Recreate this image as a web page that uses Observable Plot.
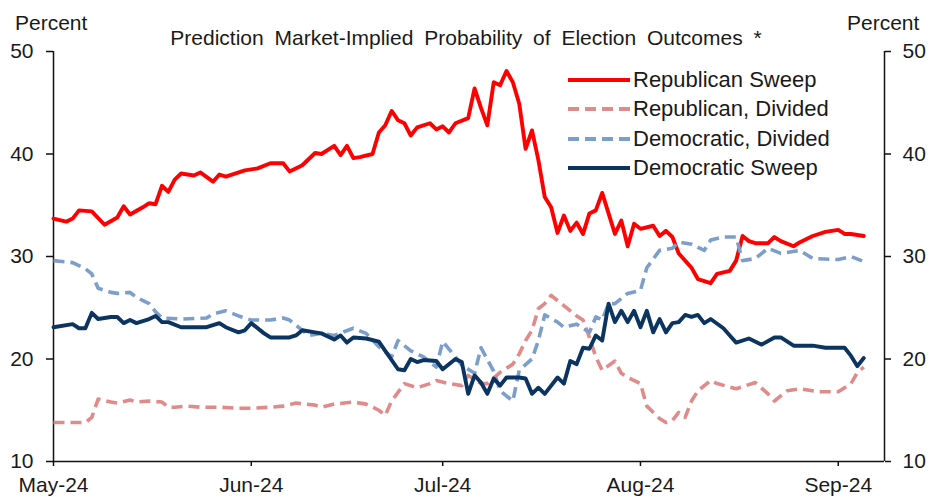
<!DOCTYPE html>
<html>
<head>
<meta charset="utf-8">
<script src="https://cdn.jsdelivr.net/npm/d3@7"></script>
<script src="https://cdn.jsdelivr.net/npm/@observablehq/plot@0.6"></script>
<style>
  body { margin: 0; background: #fff; }
  #wrap { position: relative; width: 929px; height: 497px; overflow: hidden;
          font-family: "Liberation Sans", Arial, sans-serif; color: #1a1a1a; }
  #chart { position: absolute; left: 0; top: 0; }
  .lbl { position: absolute; font-size: 21px; line-height: 1; white-space: pre; }
  .leg { position: absolute; left: 568px; height: 30px; }
  .leg svg { position: absolute; left: 0; top: 0; }
  .leg span { position: absolute; left: 65px; font-size: 22px; line-height: 1; white-space: pre; }
</style>
</head>
<body>
<div id="wrap">
  <div id="chart"></div>
  <div class="lbl" id="title" style="top:27px;left:0;width:932px;text-align:center;word-spacing:5px;"></div>
  <div class="lbl" id="pl" style="top:12px;left:15px;"></div>
  <div class="lbl" id="pr" style="top:12px;left:847px;"></div>
  <div id="legend"></div>
</div>
<script>
// ---------- chart text ----------
const titleText = "Prediction Market-Implied Probability of Election Outcomes *";
const unitLabel = "Percent";
const yTicks = [10, 20, 30, 40, 50];
const monthTicks = ["2024-05-01", "2024-06-01", "2024-07-01", "2024-08-01", "2024-09-01"];
const xDomain = ["2024-05-01", "2024-09-08T06:00"];

// ---------- series names / styles ----------
const seriesNames = ["Republican Sweep", "Republican, Divided", "Democratic, Divided", "Democratic Sweep"];
const seriesColors = ["#ff0000", "#e08a8a", "#7c9ecb", "#0b3560"];
const seriesDash = [null, "11,6", "11,6", null];

// ---------- Republican Sweep ----------
const repSweepDates = ["05-01","05-03","05-04","05-05","05-07","05-09","05-11","05-12","05-13","05-15","05-16","05-17","05-18","05-19","05-20","05-21","05-22","05-23","05-24","05-26","05-27","05-28","05-31",
"06-02","06-04","06-06","06-07","06-09","06-11","06-12","06-14","06-15","06-16","06-17","06-18","06-20","06-21","06-22","06-23","06-24","06-25","06-26","06-27","06-29","06-30",
"07-01","07-02","07-03","07-05","07-06","07-07","07-08","07-09","07-10","07-11","07-12","07-13","07-14","07-15","07-16","07-17","07-18","07-19","07-20","07-21","07-22","07-23","07-24","07-25","07-26","07-28","07-29","07-30","07-31",
"08-01","08-03","08-04","08-05","08-06","08-07","08-09","08-10","08-12","08-13","08-15","08-16","08-17","08-18","08-19","08-21","08-22","08-23","08-25","08-26","08-28","08-30",
"09-01","09-02","09-03","09-05"];
const repSweepValues = [33.7,33.4,33.7,34.5,34.4,33.1,33.8,34.9,34.1,34.8,35.2,35.1,36.9,36.3,37.5,38.1,38.0,37.9,38.2,37.3,38.0,37.8,38.4,
38.6,39.1,39.1,38.3,38.9,40.1,40.0,40.8,39.9,40.8,39.6,39.7,40.0,42.1,42.8,44.2,43.3,43.0,41.8,42.6,43.0,42.4,
42.7,42.1,43.0,43.5,46.4,44.5,42.8,47.0,46.7,48.1,47.0,44.9,40.5,42.3,39.4,35.8,34.8,32.3,34.0,32.5,33.3,32.2,34.2,34.5,36.2,32.2,33.5,31.0,33.2,
32.7,33.0,32.0,32.5,31.9,30.3,28.9,27.8,27.4,28.3,28.6,29.6,32.0,31.5,31.3,31.3,31.9,31.5,31.0,31.4,32.0,32.4,
32.6,32.2,32.2,32.0];

// ---------- Republican, Divided ----------
const repDivDates = ["05-01","05-06","05-07","05-08","05-10","05-11","05-13","05-14","05-16","05-18","05-19","05-20","05-22","05-24","05-27","05-30",
"06-01","06-04","06-06","06-08","06-11","06-12","06-14","06-17","06-19","06-21","06-22","06-23","06-25","06-27","06-29","06-30",
"07-02","07-04","07-05","07-07","07-08","07-10","07-12","07-13","07-14","07-15","07-16","07-17","07-18","07-20","07-22","07-23","07-24","07-25","07-26","07-28","07-29","07-30",
"08-01","08-02","08-04","08-05","08-06","08-07","08-08","08-09","08-10","08-12","08-13","08-16","08-19","08-21","08-22","08-24","08-26","08-29",
"09-01","09-03","09-04","09-05"];
const repDivValues = [13.8,13.8,14.3,16.1,15.8,15.7,16.0,15.8,15.9,15.8,15.3,15.3,15.4,15.3,15.3,15.2,
15.2,15.3,15.4,15.7,15.5,15.3,15.6,15.8,15.6,15.0,14.5,15.9,17.6,17.2,17.6,17.9,
17.6,17.4,18.4,17.6,17.6,18.7,19.5,20.5,21.8,22.8,24.9,25.4,26.2,25.2,24.2,23.8,22.1,20.2,18.9,19.8,18.6,18.2,
17.6,15.4,14.2,13.8,14.0,14.8,14.3,15.9,16.9,17.9,17.6,17.1,17.7,16.6,15.9,16.9,17.1,16.8,
16.8,17.6,18.7,19.2];

// ---------- Democratic, Divided ----------
const demDivDates = ["05-01","05-04","05-06","05-07","05-08","05-10","05-11","05-13","05-14","05-16","05-17","05-18","05-21","05-25","05-26","05-28","05-30",
"06-01","06-04","06-06","06-07","06-09","06-10","06-12","06-14","06-17","06-19","06-21","06-23","06-24","06-26","06-28","06-30",
"07-01","07-03","07-04","07-06","07-07","07-09","07-10","07-12","07-13","07-15","07-16","07-17","07-19","07-20","07-22","07-24","07-25","07-26","07-27","07-28","07-30",
"08-01","08-02","08-04","08-06","08-07","08-09","08-11","08-12","08-14","08-16","08-17","08-19","08-21","08-23","08-26","08-28",
"09-01","09-03","09-05"];
const demDivValues = [29.6,29.4,28.8,28.3,26.9,26.5,26.4,26.5,26.0,25.4,24.6,24.0,23.9,24.0,24.4,24.7,24.2,
23.8,23.8,24.0,23.8,22.8,22.3,22.5,22.3,23.0,22.5,21.2,20.2,21.8,20.8,20.2,19.2,
21.7,20.2,19.4,18.6,21.1,18.8,16.9,15.9,18.9,20.0,21.8,24.3,23.6,23.1,23.4,22.6,24.1,23.8,25.4,25.4,26.4,
26.7,28.9,30.6,30.8,31.4,31.2,30.6,31.6,31.9,31.9,29.6,29.8,30.8,30.3,30.6,29.8,
29.7,30.0,29.5];

// ---------- Democratic Sweep ----------
const demSweepDates = ["05-01","05-04","05-05","05-06","05-07","05-08","05-10","05-11","05-12","05-13","05-14","05-16","05-17","05-18","05-19","05-21","05-25","05-27","05-28","05-30","05-31",
"06-01","06-03","06-04","06-07","06-08","06-09","06-11","06-12","06-14","06-15","06-16","06-17","06-19","06-21","06-22","06-24","06-25","06-26","06-27","06-28","06-30",
"07-01","07-03","07-04","07-05","07-06","07-07","07-08","07-09","07-10","07-11","07-13","07-14","07-15","07-16","07-17","07-19","07-20","07-21","07-22","07-23","07-24","07-25","07-26","07-27","07-28","07-29","07-30","07-31",
"08-01","08-02","08-03","08-04","08-05","08-06","08-07","08-08","08-09","08-10","08-11","08-12","08-14","08-15","08-16","08-18","08-20","08-22","08-23","08-25","08-28","08-30",
"09-02","09-03","09-04","09-05"];
const demSweepValues = [23.1,23.4,23.0,23.0,24.5,23.9,24.1,24.1,23.5,23.8,23.5,23.9,24.2,23.6,23.6,23.1,23.1,23.5,23.1,22.6,22.8,
23.5,22.5,22.1,22.1,22.3,22.8,22.6,22.5,21.9,22.3,21.6,22.1,22.0,21.7,20.8,19.0,18.9,20.0,19.7,19.9,19.8,
19.0,20.0,19.7,16.6,18.4,17.7,16.6,18.1,17.4,18.2,18.2,18.1,16.6,17.2,16.6,18.2,17.6,19.8,19.5,21.1,21.0,22.3,21.8,25.4,23.6,24.7,23.6,24.7,
23.1,24.7,22.6,23.9,22.6,23.5,23.6,24.3,24.1,24.3,23.5,23.9,23.0,22.3,21.6,22.0,21.4,22.1,22.1,21.3,21.3,21.1,
21.1,20.3,19.3,20.1];

// ---------- build table ----------
const seriesDates = [repSweepDates, repDivDates, demDivDates, demSweepDates];
const seriesValues = [repSweepValues, repDivValues, demDivValues, demSweepValues];
const parse = s => new Date("2024-" + s + "T00:00:00Z");
const tables = seriesNames.map((name, i) =>
  seriesDates[i].map((d, j) => ({date: parse(d), value: seriesValues[i][j], series: name})));

const dStart = new Date(xDomain[0] + "T00:00:00Z");
const dEnd = new Date(xDomain[1] + ":00Z");
const axisColor = "#111";

const lineMarks = tables.map((t, i) => Plot.lineY(t, {
  x: "date", y: "value",
  stroke: seriesColors[i], strokeWidth: seriesDash[i] ? 3.6 : 3.9,
  strokeDasharray: seriesDash[i] || undefined,
  strokeLinecap: seriesDash[i] ? "butt" : "round",
  strokeLinejoin: "round"
}));

const chart = Plot.plot({
  width: 929, height: 497,
  marginLeft: 53, marginRight: 45, marginTop: 51, marginBottom: 36,
  style: {fontFamily: "'Liberation Sans', Arial, sans-serif", fontSize: "21px", color: "#1a1a1a", background: "transparent"},
  x: {type: "utc", domain: [dStart, dEnd]},
  y: {domain: [yTicks[0], yTicks[yTicks.length - 1]]},
  marks: [
    Plot.axisY(yTicks, {anchor: "left", tickSize: 7, tickPadding: 13, label: null, stroke: axisColor, strokeWidth: 1.5}),
    Plot.axisY(yTicks, {anchor: "right", tickSize: 6, tickPadding: 12, label: null, stroke: axisColor, strokeWidth: 1.5}),
    Plot.axisX(monthTicks.map(m => new Date(m + "T00:00:00Z")), {tickSize: 5, tickPadding: 11, tickFormat: d3.utcFormat("%b-%y"), label: null, stroke: axisColor, strokeWidth: 1.5}),
    Plot.ruleX([dStart], {stroke: axisColor, strokeWidth: 1.5}),
    Plot.ruleX([dEnd], {stroke: axisColor, strokeWidth: 1.5}),
    Plot.ruleY([yTicks[0]], {stroke: axisColor, strokeWidth: 1.5}),
    ...lineMarks
  ]
});
document.getElementById("chart").appendChild(chart);

document.getElementById("title").textContent = titleText;
document.getElementById("pl").textContent = unitLabel;
document.getElementById("pr").textContent = unitLabel;

// ---------- legend ----------
const legend = document.getElementById("legend");
const legTop = 65, legStep = 29.3;
seriesNames.forEach((name, i) => {
  const row = document.createElement("div");
  row.className = "leg";
  row.style.top = (legTop + i * legStep) + "px";
  row.innerHTML = `<svg width="64" height="30"><line x1="0" x2="62" y1="15" y2="15" stroke="${seriesColors[i]}" stroke-width="3.8" ${seriesDash[i] ? `stroke-dasharray="${seriesDash[i]}"` : ""}/></svg><span style="top:4px">${name}</span>`;
  legend.appendChild(row);
});
</script>
</body>
</html>
